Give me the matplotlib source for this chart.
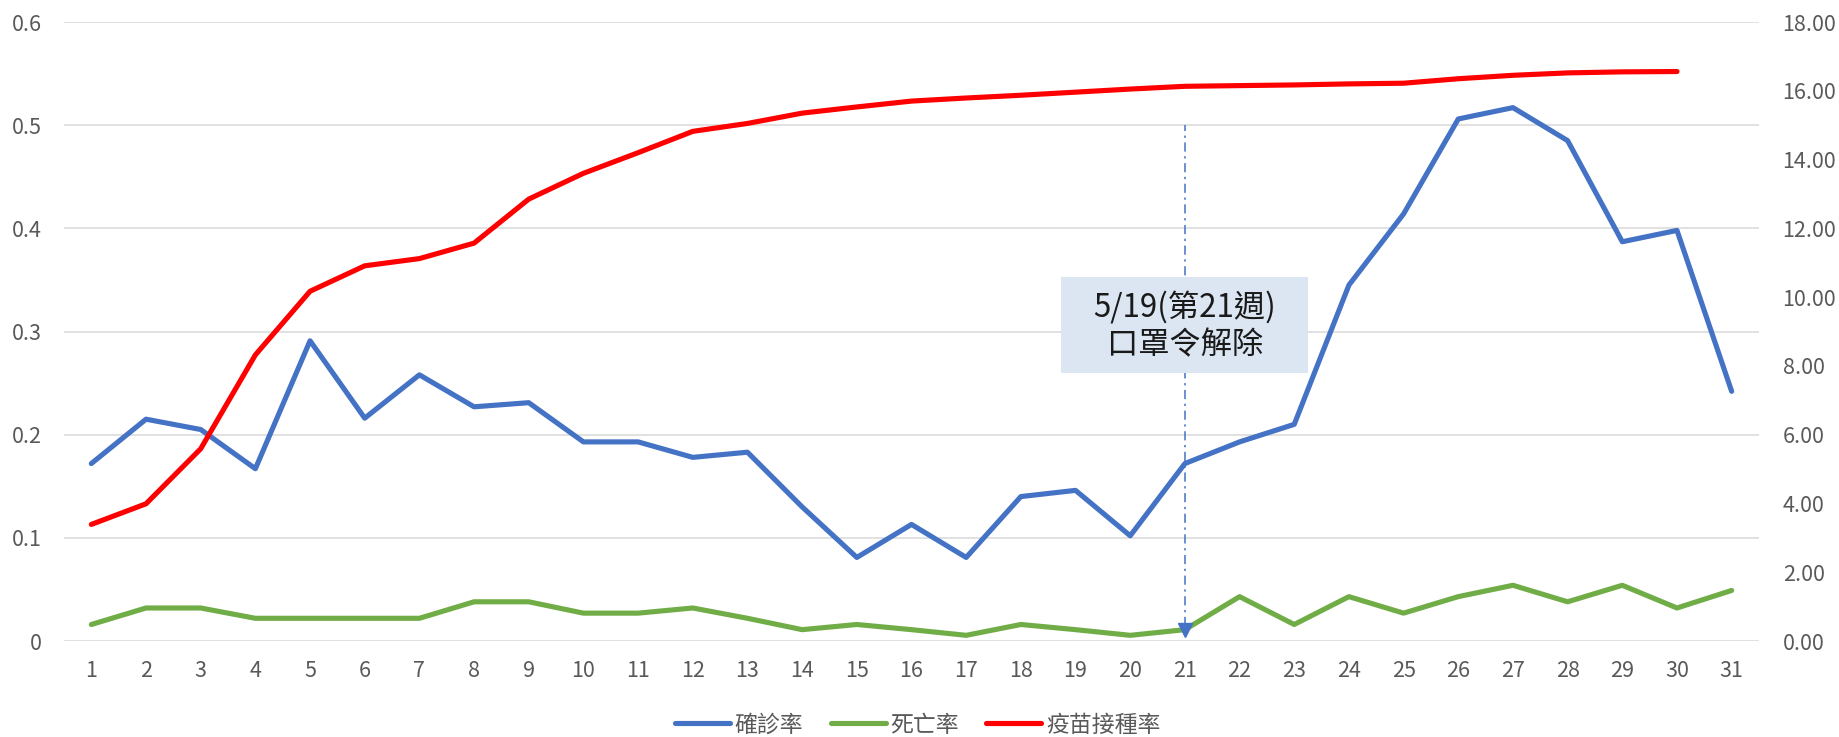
import matplotlib
matplotlib.use("Agg")
import matplotlib.pyplot as plt
from matplotlib.patches import Rectangle

plt.rcParams['font.family'] = ['Noto Sans CJK TC', 'DejaVu Sans']

weeks = list(range(1, 32))
confirm_rate = [0.172, 0.215, 0.205, 0.167, 0.291, 0.216, 0.258, 0.227, 0.231, 0.193,
                0.193, 0.178, 0.183, 0.130, 0.081, 0.113, 0.081, 0.140, 0.146, 0.102,
                0.172, 0.193, 0.210, 0.345, 0.414, 0.506, 0.517, 0.485, 0.387, 0.398,
                0.242]
death_rate = [0.016, 0.032, 0.032, 0.022, 0.022, 0.022, 0.022, 0.038, 0.038, 0.027,
              0.027, 0.032, 0.022, 0.011, 0.016, 0.011, 0.0055, 0.016, 0.011, 0.0055,
              0.011, 0.043, 0.016, 0.043, 0.027, 0.043, 0.054, 0.038, 0.054, 0.032,
              0.049]
vaccine_weeks = list(range(1, 31))
vaccine_rate = [3.39, 3.99, 5.59, 8.32, 10.17, 10.91, 11.12, 11.57, 12.85, 13.60,
                14.20, 14.82, 15.05, 15.35, 15.53, 15.70, 15.79, 15.87, 15.96, 16.05,
                16.13, 16.15, 16.17, 16.20, 16.22, 16.35, 16.45, 16.52, 16.55, 16.56]
series_names = ['確診率', '死亡率', '疫苗接種率']
left_ticks = [0, 0.1, 0.2, 0.3, 0.4, 0.5, 0.6]
left_labels = ['0', '0.1', '0.2', '0.3', '0.4', '0.5', '0.6']
right_ticks = [0, 2, 4, 6, 8, 10, 12, 14, 16, 18]
right_labels = ['0.00', '2.00', '4.00', '6.00', '8.00', '10.00', '12.00', '14.00', '16.00', '18.00']
note_week = 21
note_lines = ['5/19(第21週)', '口罩令解除']

BLUE = '#4472C4'
GREEN = '#70AD47'
RED = '#FF0000'
GRAY = '#595959'

W, H = 1839, 737
fig = plt.figure(figsize=(W / 100, H / 100), dpi=100)
ax = fig.add_axes([64 / W, 1 - 641 / H, (1759 - 64) / W, (641 - 22) / H])
ax2 = ax.twinx()

ax.set_xlim(0.5, 31.5)
ax.set_ylim(0, 0.6)
ax2.set_ylim(0, 18)

for a in (ax, ax2):
    for s in a.spines.values():
        s.set_visible(False)

ax.set_yticks(left_ticks)
ax.set_yticklabels(left_labels)
ax2.set_yticks(right_ticks)
ax2.set_yticklabels(right_labels)
ax.set_xticks(weeks)
ax.set_xticklabels([str(w) for w in weeks])

ax.tick_params(axis='y', length=0, pad=16, labelsize=15.5, labelcolor=GRAY)
ax.tick_params(axis='x', length=0, pad=14, labelsize=15.5, labelcolor=GRAY)
ax2.tick_params(axis='y', length=0, pad=17, labelsize=15.5, labelcolor=GRAY)

ax.grid(axis='y', color='#d9d9d9', lw=1.1)
ax.set_axisbelow(True)

LW = 3.7
l1, = ax.plot(weeks, confirm_rate, color=BLUE, lw=LW, solid_capstyle='round',
              solid_joinstyle='round', zorder=3, label=series_names[0])
l2, = ax.plot(weeks, death_rate, color=GREEN, lw=LW, solid_capstyle='round',
              solid_joinstyle='round', zorder=3, label=series_names[1])
l3, = ax2.plot(vaccine_weeks, vaccine_rate, color=RED, lw=LW, solid_capstyle='round',
               solid_joinstyle='round', zorder=3, label=series_names[2])

# annotation: dash-dot arrow at week 21
ax2.plot([note_week, note_week], [0.45, 15.0], color=BLUE, lw=1.1,
         linestyle=(0, (6, 3, 1.5, 3)), zorder=2)
ax2.plot([note_week], [0.32], marker='v', ms=10.5, color=BLUE, mec=BLUE, zorder=2)

box = Rectangle((18.73, 7.79), 23.25 - 18.73, 10.58 - 7.79, facecolor='#dce6f2',
                edgecolor='none', zorder=4)
ax2.add_patch(box)
ax2.text(note_week, 9.68, note_lines[0], ha='center', va='center', fontsize=22.5,
         color='#1a1a1a', zorder=5)
ax2.text(note_week, 8.60, note_lines[1], ha='center', va='center', fontsize=22.5,
         color='#1a1a1a', zorder=5)

leg = fig.legend(handles=[l1, l2, l3], loc='center', bbox_to_anchor=(0.499, 1 - 725 / H),
                 ncol=3, frameon=False, fontsize=16.5, handlelength=2.4,
                 handletextpad=0.2, columnspacing=1.2)
for t in leg.get_texts():
    t.set_color(GRAY)

fig.savefig('out.png', dpi=100)
